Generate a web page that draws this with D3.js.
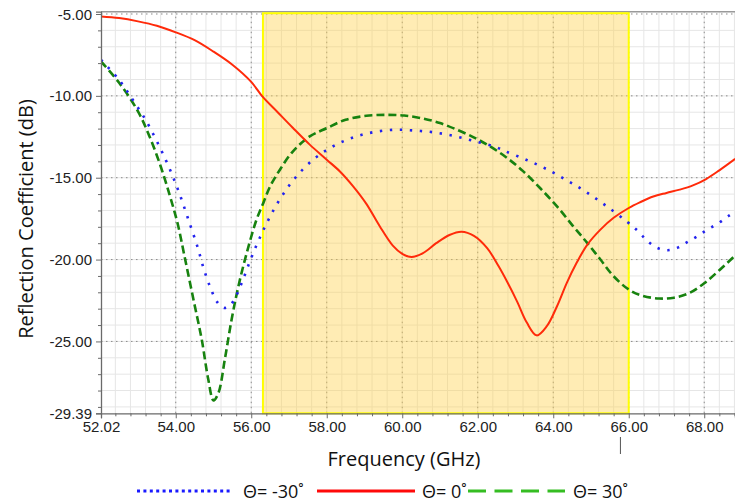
<!DOCTYPE html>
<html>
<head>
<meta charset="utf-8">
<script src="https://cdn.jsdelivr.net/npm/d3@7"></script>
<style>
  html, body { margin: 0; padding: 0; background: #fff; }
  svg { display: block; }
  .tick-label { font-family: "Liberation Sans", Arial, sans-serif; font-size: 15px; fill: #222; }
  .title { font-family: "Open Sans", "Liberation Sans", sans-serif; font-size: 20px; fill: #111; }
  .legend { font-family: "Open Sans", "DejaVu Sans", sans-serif; font-size: 18px; fill: #111; }
</style>
</head>
<body>
<svg id="chart" width="735" height="503"></svg>
<script>
// Reflection coefficient (dB) vs frequency (GHz) for three incidence angles
const freqNeg30 = [52.02, 52.5, 52.86, 53.19, 53.47, 53.72, 53.94, 54.14, 54.32, 54.4, 54.58, 54.73, 54.91, 55.1, 55.28, 55.42, 55.59, 55.81, 56.01, 56.23, 56.48, 56.78, 57.16, 57.66, 58.19, 58.73, 59.26, 59.81, 60.34, 60.87, 61.42, 61.95, 62.48, 62.75, 63.28, 63.82, 64.36, 64.89, 65.42, 65.95, 66.25, 66.49, 66.76, 67.03, 67.3, 67.56, 67.84, 68.1, 68.37, 68.64, 68.82];
const s11Neg30  = [-7.8, -9.02, -10.24, -11.42, -12.64, -13.84, -15.02, -16.24, -17.46, -18.0, -19.25, -20.47, -21.67, -22.6, -22.95, -22.85, -22.27, -21.05, -19.84, -18.65, -17.46, -16.24, -15.02, -13.86, -13.05, -12.52, -12.21, -12.07, -12.12, -12.24, -12.48, -12.79, -13.13, -13.4, -13.9, -14.47, -15.16, -15.9, -16.75, -17.68, -18.27, -18.86, -19.29, -19.43, -19.27, -18.92, -18.54, -18.15, -17.79, -17.34, -17.07];

const freq0 = [52.02, 52.5, 53.0, 53.5, 54.0, 54.5, 55.0, 55.5, 56.0, 56.3, 56.7, 57.1, 57.55, 58.0, 58.35, 58.7, 59.05, 59.4, 59.75, 60.0, 60.25, 60.55, 60.9, 61.25, 61.57, 61.9, 62.25, 62.55, 62.8, 63.05, 63.3, 63.56, 63.83, 64.1, 64.36, 64.62, 64.9, 65.25, 65.6, 66.0, 66.3, 66.65, 67.0, 67.35, 67.7, 68.05, 68.4, 68.82];
const s110  = [-5.15, -5.25, -5.45, -5.72, -6.12, -6.6, -7.3, -8.1, -9.15, -10.05, -11.0, -11.95, -12.98, -13.9, -14.62, -15.53, -16.6, -17.95, -19.15, -19.65, -19.84, -19.6, -19.0, -18.5, -18.3, -18.55, -19.3, -20.4, -21.45, -22.6, -23.85, -24.63, -24.07, -22.85, -21.42, -20.2, -19.1, -18.17, -17.45, -16.85, -16.5, -16.15, -15.93, -15.73, -15.47, -15.08, -14.55, -13.85];

const freq30 = [52.02, 52.5, 53.0, 53.3, 53.6, 53.85, 54.05, 54.25, 54.47, 54.69, 54.86, 55.0, 55.13, 55.3, 55.48, 55.66, 55.88, 56.14, 56.32, 56.5, 56.76, 57.1, 57.55, 58.0, 58.5, 59.05, 59.6, 60.05, 60.5, 61.0, 61.5, 61.95, 62.3, 62.77, 63.2, 63.65, 64.1, 64.53, 64.9, 65.25, 65.6, 66.0, 66.35, 66.8, 67.2, 67.6, 68.0, 68.4, 68.82];
const s1130  = [-7.9, -9.2, -10.95, -12.45, -14.3, -16.15, -17.8, -20.0, -22.45, -24.9, -27.3, -28.6, -28.15, -26.1, -23.66, -21.63, -19.6, -17.56, -16.54, -15.53, -14.51, -13.4, -12.48, -11.97, -11.46, -11.22, -11.16, -11.2, -11.36, -11.66, -12.12, -12.6, -13.05, -13.78, -14.6, -15.63, -16.75, -17.97, -18.98, -20.0, -21.02, -21.83, -22.2, -22.38, -22.33, -22.05, -21.45, -20.65, -19.75];

const yTickValues = [-5, -10, -15, -20, -25, -29.39];
const xTickValues = [52.02, 54, 56, 58, 60, 62, 64, 66, 68];
const bandRange = [56.31, 66.0];           // highlighted operating band (GHz)
const markerFreq = 65.78;                  // small marker below the axis
const legendLabels = ["Θ= -30˚", "Θ= 0˚", "Θ= 30˚"];

const svg = d3.select("#chart");
const plotLeft = 101, plotRight = 735, plotTop = 11.7, plotBottom = 413.3;

const x = d3.scaleLinear().domain([52.02, 68.815]).range([plotLeft, plotRight]);
const y = d3.scaleLinear().domain([-29.39, -4.86]).range([plotBottom, plotTop]);

// minor grid
const minorX = d3.range(131, 173).map(k => +(k * 0.4).toFixed(2)).filter(v => v > 52.02 && v < 68.815);
const minorY = d3.range(-6, -30, -1);
const grid = svg.append("g");
grid.selectAll("line.mx").data(minorX).join("line")
  .attr("x1", d => x(d)).attr("x2", d => x(d)).attr("y1", plotTop).attr("y2", plotBottom)
  .attr("stroke", "#e6e6e6").attr("stroke-width", 1);
grid.selectAll("line.my").data(minorY).join("line")
  .attr("x1", plotLeft).attr("x2", plotRight).attr("y1", d => y(d)).attr("y2", d => y(d))
  .attr("stroke", "#e6e6e6").attr("stroke-width", 1);

// major dotted grid
grid.selectAll("line.Mx").data(xTickValues.slice(1)).join("line")
  .attr("x1", d => x(d)).attr("x2", d => x(d)).attr("y1", plotTop).attr("y2", plotBottom)
  .attr("stroke", "#8a8a8a").attr("stroke-width", 1).attr("stroke-dasharray", "1.5,3.5");
grid.selectAll("line.My").data(yTickValues.slice(0, 5)).join("line")
  .attr("x1", plotLeft).attr("x2", plotRight).attr("y1", d => y(d)).attr("y2", d => y(d))
  .attr("stroke", "#8a8a8a").attr("stroke-width", 1).attr("stroke-dasharray", "1.5,3.5");

// top border
svg.append("line").attr("x1", plotLeft).attr("x2", plotRight).attr("y1", plotTop).attr("y2", plotTop)
  .attr("stroke", "#9a9a9a").attr("stroke-width", 1.5);

// highlighted band
svg.append("rect")
  .attr("x", x(bandRange[0])).attr("y", plotTop + 1.5)
  .attr("width", x(bandRange[1]) - x(bandRange[0])).attr("height", plotBottom - plotTop - 1.5)
  .attr("fill", "#ffd24d").attr("fill-opacity", 0.42)
  .attr("stroke", "#ffff00").attr("stroke-width", 2);

// curves
svg.append("clipPath").attr("id", "plotclip")
  .append("rect").attr("x", plotLeft).attr("y", plotTop).attr("width", plotRight - plotLeft).attr("height", plotBottom - plotTop);
const line = d3.line().x(d => x(d[0])).y(d => y(d[1])).curve(d3.curveCatmullRom.alpha(0.5));
const curves = svg.append("g").attr("clip-path", "url(#plotclip)");

curves.append("path").datum(d3.zip(freq30, s1130))
  .attr("d", line).attr("fill", "none")
  .attr("stroke", "#17820f").attr("stroke-width", 2.6).attr("stroke-dasharray", "8,4");
curves.append("path").datum(d3.zip(freqNeg30, s11Neg30))
  .attr("d", line).attr("fill", "none")
  .attr("stroke", "#2323ee").attr("stroke-width", 2.6).attr("stroke-dasharray", "2.4,7.6");
curves.append("path").datum(d3.zip(freq0, s110))
  .attr("d", line).attr("fill", "none")
  .attr("stroke", "#ff2a0a").attr("stroke-width", 2);

// axes
const axisColor = "#6a6a6a";
const yAxis = svg.append("g").attr("transform", `translate(${plotLeft},0)`)
  .call(d3.axisLeft(y).tickValues(yTickValues).tickSize(5).tickFormat(d => d.toFixed(2)));
const yMinor = svg.append("g").attr("transform", `translate(${plotLeft},0)`)
  .call(d3.axisLeft(y).tickValues(minorY.filter(v => v % 5 !== 0)).tickSize(3).tickFormat(""));
const xAxis = svg.append("g").attr("transform", `translate(0,${plotBottom})`)
  .call(d3.axisBottom(x).tickValues(xTickValues).tickSize(5).tickFormat(d => d.toFixed(2)));
const xMinor = svg.append("g").attr("transform", `translate(0,${plotBottom})`)
  .call(d3.axisBottom(x).tickValues(minorX.filter(v => Math.abs(v / 2 - Math.round(v / 2)) > 1e-6)).tickSize(3).tickFormat(""));

[yAxis, yMinor, xAxis, xMinor].forEach(g => {
  g.select(".domain").attr("stroke", axisColor).attr("stroke-width", 1.3);
  g.selectAll(".tick line").attr("stroke", axisColor);
  g.selectAll(".tick text").attr("class", "tick-label").attr("fill", "#222");
});
yAxis.selectAll(".tick text").attr("x", -9).attr("dy", "0.34em");
xAxis.selectAll(".tick text").attr("y", 8).attr("dy", "0.71em");
xMinor.select(".domain").remove();
yMinor.select(".domain").remove();

// small marker below the 66.00 label
svg.append("line").attr("x1", x(markerFreq)).attr("x2", x(markerFreq)).attr("y1", 437).attr("y2", 454)
  .attr("stroke", "#555").attr("stroke-width", 1);

// axis titles
svg.append("text").attr("class", "title")
  .attr("x", 404).attr("y", 466).attr("text-anchor", "middle")
  .text("Frequency (GHz)");
svg.append("text").attr("class", "title")
  .attr("transform", "translate(33,219) rotate(-90)").attr("text-anchor", "middle")
  .text("Reflection Coefficient (dB)");

// legend
const legendY = 491;
const legendItems = [
  { label: legendLabels[0], x1: 137, x2: 233, tx: 243, color: "#1a1aff", dash: "3,3.4", width: 3 },
  { label: legendLabels[1], x1: 317, x2: 415, tx: 422, color: "#ff0a0a", dash: null, width: 3 },
  { label: legendLabels[2], x1: 468, x2: 565, tx: 573, color: "#35bd22", dash: "18,8.5", width: 3 }
];
const lg = svg.append("g");
legendItems.forEach(it => {
  lg.append("line").attr("x1", it.x1).attr("x2", it.x2).attr("y1", legendY).attr("y2", legendY)
    .attr("stroke", it.color).attr("stroke-width", it.width)
    .attr("stroke-dasharray", it.dash);
  lg.append("text").attr("class", "legend").attr("x", it.tx).attr("y", legendY + 6.5).text(it.label);
});
</script>
</body>
</html>
